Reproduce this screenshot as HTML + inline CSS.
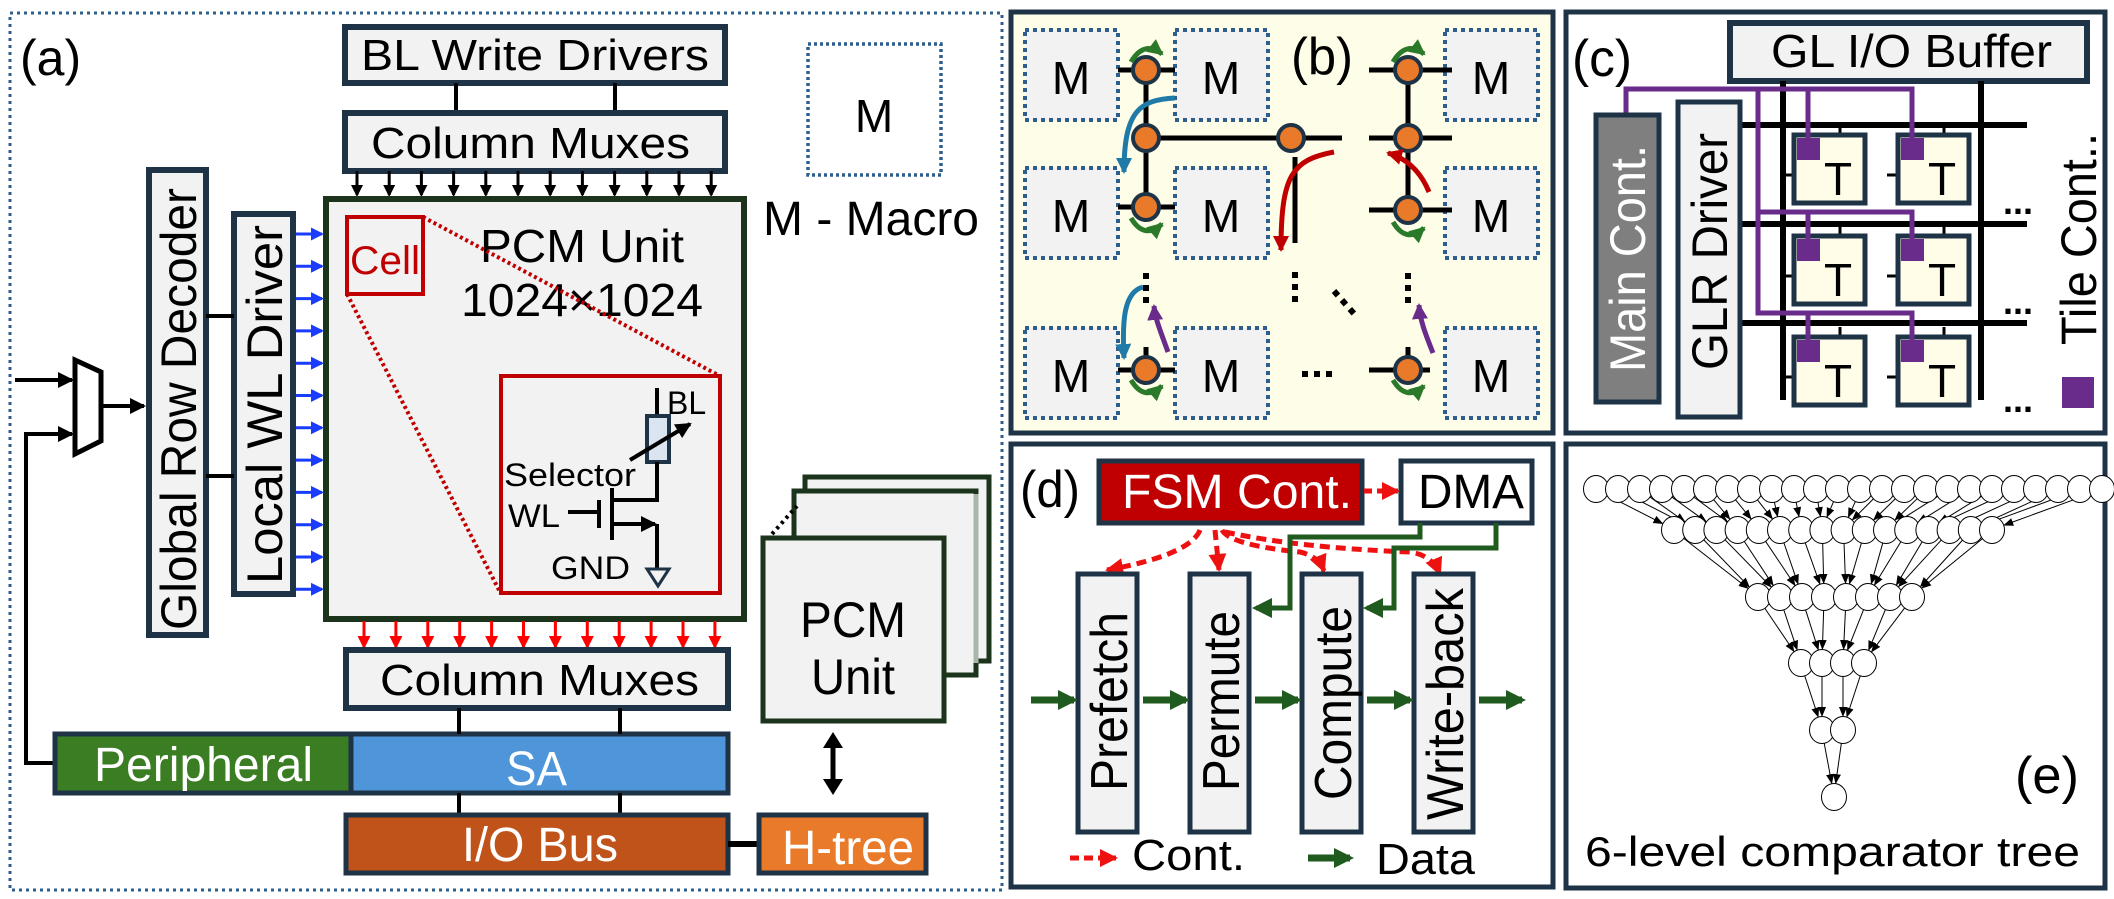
<!DOCTYPE html>
<html><head><meta charset="utf-8"><style>
html,body{margin:0;padding:0;background:#fff;}
svg{display:block;font-family:"Liberation Sans",Arial,sans-serif;}
</style></head><body>
<svg id="s" width="2114" height="899" viewBox="0 0 2114 899" xmlns="http://www.w3.org/2000/svg">
<defs>
<marker id="ak" markerWidth="12" markerHeight="12" refX="10" refY="6" orient="auto" markerUnits="userSpaceOnUse"><path d="M0,0L12,6L0,12z" fill="#000"/></marker>
<marker id="akb" markerWidth="16" markerHeight="16" refX="14" refY="8" orient="auto" markerUnits="userSpaceOnUse"><path d="M0,0L16,8L0,16z" fill="#000"/></marker>
<marker id="ab" markerWidth="13" markerHeight="13" refX="11" refY="6.5" orient="auto" markerUnits="userSpaceOnUse"><path d="M0,0L13,6.5L0,13z" fill="#1a3cff"/></marker>
<marker id="ar" markerWidth="13" markerHeight="13" refX="11" refY="6.5" orient="auto" markerUnits="userSpaceOnUse"><path d="M0,0L13,6.5L0,13z" fill="#ff0000"/></marker>
<marker id="ared" markerWidth="16" markerHeight="16" refX="14" refY="8" orient="auto" markerUnits="userSpaceOnUse"><path d="M0,0L16,8L0,16z" fill="#c00000"/></marker>
<marker id="ablue" markerWidth="16" markerHeight="16" refX="14" refY="8" orient="auto" markerUnits="userSpaceOnUse"><path d="M0,0L16,8L0,16z" fill="#1f7aa8"/></marker>
<marker id="agr" markerWidth="16" markerHeight="16" refX="14" refY="8" orient="auto" markerUnits="userSpaceOnUse"><path d="M0,0L16,8L0,16z" fill="#2a7a2a"/></marker>
<marker id="apu" markerWidth="16" markerHeight="16" refX="14" refY="8" orient="auto" markerUnits="userSpaceOnUse"><path d="M0,0L16,8L0,16z" fill="#6a2c8a"/></marker>
<marker id="adg" markerWidth="20" markerHeight="20" refX="16" refY="10" orient="auto" markerUnits="userSpaceOnUse"><path d="M0,0L20,10L0,20z" fill="#1f5a1f"/></marker>
<marker id="arr" markerWidth="18" markerHeight="18" refX="16" refY="9" orient="auto" markerUnits="userSpaceOnUse"><path d="M0,0L18,9L0,18z" fill="#ee1111"/></marker>
<marker id="atree" markerWidth="10" markerHeight="10" refX="9" refY="5" orient="auto" markerUnits="userSpaceOnUse"><path d="M0,1L10,5L0,9z" fill="#000"/></marker>
</defs>

<!-- ===== Panel (a) ===== -->
<rect x="10" y="13" width="992" height="877" fill="none" stroke="#2e5e8e" stroke-width="3" stroke-dasharray="3,4"/>
<text x="20" y="75" font-size="50">(a)</text>

<rect x="345" y="27" width="380" height="56" fill="#f2f2f2" stroke="#1f3347" stroke-width="6"/>
<text x="361" y="70" font-size="44" textLength="348" lengthAdjust="spacingAndGlyphs">BL Write Drivers</text>
<line x1="456" y1="83" x2="456" y2="113" stroke="#000" stroke-width="4"/>
<line x1="615" y1="83" x2="615" y2="113" stroke="#000" stroke-width="4"/>
<rect x="345" y="113" width="380" height="58" fill="#f2f2f2" stroke="#1f3347" stroke-width="6"/>
<text x="371" y="158" font-size="44" textLength="319" lengthAdjust="spacingAndGlyphs">Column Muxes</text>

<g id="blkarrows"></g>

<rect x="326" y="199" width="418" height="420" fill="#f2f2f2" stroke="#1c331c" stroke-width="6"/>
<rect x="347" y="217" width="76" height="77" fill="none" stroke="#c00000" stroke-width="4"/>
<text x="350" y="274" font-size="40" fill="#c00000" textLength="70" lengthAdjust="spacingAndGlyphs">Cell</text>
<text x="480" y="262" font-size="46" textLength="204" lengthAdjust="spacingAndGlyphs">PCM Unit</text>
<text x="461" y="316" font-size="46" textLength="242" lengthAdjust="spacingAndGlyphs">1024×1024</text>
<line x1="423" y1="217" x2="718" y2="375" stroke="#c00000" stroke-width="4" stroke-dasharray="3,3"/>
<line x1="347" y1="294" x2="500" y2="592" stroke="#c00000" stroke-width="4" stroke-dasharray="3,3"/>
<rect x="501" y="376" width="219" height="217" fill="#f2f2f2" stroke="#c00000" stroke-width="4"/>
<line x1="657" y1="388" x2="657" y2="416" stroke="#000" stroke-width="4"/>
<text x="667" y="414" font-size="32">BL</text>
<rect x="647" y="416" width="22" height="46" fill="#dbe5f1" stroke="#1f3347" stroke-width="4"/>
<line x1="630" y1="460" x2="690" y2="424" stroke="#000" stroke-width="4" marker-end="url(#akb)"/>
<polyline points="657,462 657,500 612,500" fill="none" stroke="#000" stroke-width="4"/>
<line x1="612" y1="488" x2="612" y2="540" stroke="#000" stroke-width="4"/>
<line x1="599" y1="500" x2="599" y2="528" stroke="#000" stroke-width="4"/>
<line x1="568" y1="512" x2="599" y2="512" stroke="#000" stroke-width="4"/>
<line x1="612" y1="524" x2="655" y2="524" stroke="#000" stroke-width="4" marker-end="url(#akb)"/>
<line x1="657" y1="524" x2="657" y2="569" stroke="#000" stroke-width="4"/>
<path d="M647,569 L669,569 L658,586 Z" fill="none" stroke="#1f3347" stroke-width="3"/>
<text x="504" y="486" font-size="32" textLength="132" lengthAdjust="spacingAndGlyphs">Selector</text>
<text x="508" y="527" font-size="32" textLength="52" lengthAdjust="spacingAndGlyphs">WL</text>
<text x="551" y="579" font-size="32" textLength="79" lengthAdjust="spacingAndGlyphs">GND</text>

<g id="bluearrows"></g>
<rect x="234" y="214" width="59" height="380" fill="#f2f2f2" stroke="#1f3347" stroke-width="6"/>
<text transform="translate(282,584) rotate(-90)" font-size="50" textLength="359" lengthAdjust="spacingAndGlyphs">Local  WL Driver</text>
<rect x="149" y="170" width="57" height="465" fill="#f2f2f2" stroke="#1f3347" stroke-width="6"/>
<text transform="translate(196,630) rotate(-90)" font-size="50" textLength="442" lengthAdjust="spacingAndGlyphs">Global Row Decoder</text>
<line x1="206" y1="316" x2="234" y2="316" stroke="#000" stroke-width="4"/>
<line x1="206" y1="476" x2="234" y2="476" stroke="#000" stroke-width="4"/>

<path d="M75,360 L101,372 L101,441 L75,454 Z" fill="#fff" stroke="#000" stroke-width="5"/>
<line x1="15" y1="380" x2="72" y2="380" stroke="#000" stroke-width="4" marker-end="url(#akb)"/>
<polyline points="55,763 26,763 26,434 72,434" fill="none" stroke="#000" stroke-width="4" marker-end="url(#akb)"/>
<line x1="101" y1="406" x2="144" y2="406" stroke="#000" stroke-width="4" marker-end="url(#akb)"/>

<rect x="55" y="734" width="296" height="59" fill="#3b7d23" stroke="#1f3347" stroke-width="5"/>
<text x="94" y="781" font-size="48" fill="#fff" textLength="219" lengthAdjust="spacingAndGlyphs">Peripheral</text>
<rect x="351" y="734" width="377" height="59" fill="#4e95d9" stroke="#1f3347" stroke-width="5"/>
<text x="506" y="785" font-size="48" fill="#fff" textLength="61" lengthAdjust="spacingAndGlyphs">SA</text>

<g id="redarrows"></g>
<rect x="346" y="650" width="382" height="58" fill="#f2f2f2" stroke="#1f3347" stroke-width="6"/>
<text x="380" y="695" font-size="44" textLength="319" lengthAdjust="spacingAndGlyphs">Column Muxes</text>
<line x1="459" y1="708" x2="459" y2="734" stroke="#000" stroke-width="4"/>
<line x1="620" y1="708" x2="620" y2="734" stroke="#000" stroke-width="4"/>
<line x1="459" y1="793" x2="459" y2="815" stroke="#000" stroke-width="4"/>
<line x1="620" y1="793" x2="620" y2="815" stroke="#000" stroke-width="4"/>
<rect x="346" y="815" width="382" height="58" fill="#c0531a" stroke="#1f3347" stroke-width="5"/>
<text x="462" y="861" font-size="48" fill="#fff" textLength="156" lengthAdjust="spacingAndGlyphs">I/O Bus</text>
<line x1="728" y1="844" x2="759" y2="844" stroke="#000" stroke-width="6"/>
<rect x="759" y="815" width="167" height="58" fill="#e97a2a" stroke="#1f3347" stroke-width="5"/>
<text x="782" y="864" font-size="48" fill="#fff" textLength="132" lengthAdjust="spacingAndGlyphs">H-tree</text>

<rect x="805" y="477" width="184" height="184" fill="#f2f2f2" stroke="#1c331c" stroke-width="5"/>
<rect x="794" y="491" width="182" height="184" fill="#f2f2f2" stroke="#1c331c" stroke-width="5"/>
<line x1="976" y1="494" x2="976" y2="663" stroke="#a9b5a9" stroke-width="5"/>
<rect x="763" y="538" width="181" height="183" fill="#f2f2f2" stroke="#1c331c" stroke-width="5"/>
<line x1="772" y1="534" x2="797" y2="506" stroke="#000" stroke-width="4" stroke-dasharray="3,4"/>
<text x="800" y="637" font-size="50" textLength="106" lengthAdjust="spacingAndGlyphs">PCM</text>
<text x="811" y="694" font-size="50" textLength="84" lengthAdjust="spacingAndGlyphs">Unit</text>
<line x1="833" y1="745" x2="833" y2="782" stroke="#000" stroke-width="5"/>
<path d="M823,748 L833,732 L843,748 Z M823,779 L833,795 L843,779 Z" fill="#000"/>

<rect x="808" y="44" width="133" height="131" fill="none" stroke="#2e5e8e" stroke-width="3.5" stroke-dasharray="3,3"/>
<text x="874" y="132" font-size="46" text-anchor="middle">M</text>
<text x="763" y="235" font-size="48" textLength="216" lengthAdjust="spacingAndGlyphs">M - Macro</text>

<!-- ===== Panel (b) ===== -->
<rect x="1011" y="12" width="542" height="421" fill="#fefde8" stroke="#1f3347" stroke-width="5"/>
<g id="mboxes"></g>
<text x="1291" y="74" font-size="52" textLength="62" lengthAdjust="spacingAndGlyphs">(b)</text>
<g stroke="#000" stroke-width="5" fill="none">
<line x1="1146" y1="70" x2="1146" y2="207"/>
<line x1="1146" y1="138" x2="1342" y2="138"/>
<line x1="1118" y1="70" x2="1175" y2="70"/>
<line x1="1118" y1="207" x2="1175" y2="207"/>
<line x1="1408" y1="70" x2="1408" y2="207"/>
<line x1="1369" y1="70" x2="1452" y2="70"/>
<line x1="1369" y1="138" x2="1452" y2="138"/>
<line x1="1369" y1="210" x2="1452" y2="210"/>
<line x1="1295" y1="157" x2="1295" y2="243"/>
<line x1="1118" y1="370" x2="1175" y2="370"/>
<line x1="1146" y1="347" x2="1146" y2="370"/>
<line x1="1369" y1="370" x2="1430" y2="370"/>
<line x1="1408" y1="347" x2="1408" y2="370"/>
</g>
<g fill="#e97a2a" stroke="#1f3347" stroke-width="4">
<circle cx="1146" cy="70" r="13"/><circle cx="1146" cy="138" r="13"/><circle cx="1291" cy="138" r="13"/>
<circle cx="1408" cy="70" r="13"/><circle cx="1408" cy="138" r="13"/><circle cx="1146" cy="207" r="13"/>
<circle cx="1408" cy="210" r="13"/><circle cx="1146" cy="370" r="13"/><circle cx="1408" cy="370" r="13"/>
</g>
<g fill="none" stroke-width="5">
<path d="M1175,98 C1140,100 1124,110 1124,172" stroke="#1f7aa8" marker-end="url(#ablue)"/>
<path d="M1143,287 C1124,292 1122,320 1124,358" stroke="#1f7aa8" marker-end="url(#ablue)"/>
<path d="M1334,152 C1292,160 1281,175 1281,250" stroke="#c00000" marker-end="url(#ared)"/>
<path d="M1429,192 C1420,170 1405,158 1388,153" stroke="#c00000" marker-end="url(#ared)"/>
<path d="M1168,352 C1160,330 1155,318 1154,306" stroke="#6a2c8a" marker-end="url(#apu)"/>
<path d="M1433,353 C1425,333 1420,320 1419,305" stroke="#6a2c8a" marker-end="url(#apu)"/>
<path d="M1131,62 Q1144,40 1162,54" stroke="#2a7a2a" marker-end="url(#agr)"/>
<path d="M1393,62 Q1406,40 1424,54" stroke="#2a7a2a" marker-end="url(#agr)"/>
<path d="M1131,218 Q1144,240 1162,224" stroke="#2a7a2a" marker-end="url(#agr)"/>
<path d="M1393,222 Q1406,244 1424,228" stroke="#2a7a2a" marker-end="url(#agr)"/>
<path d="M1131,380 Q1144,402 1162,386" stroke="#2a7a2a" marker-end="url(#agr)"/>
<path d="M1393,380 Q1406,402 1424,386" stroke="#2a7a2a" marker-end="url(#agr)"/>
</g>
<g stroke="#000" stroke-width="6" stroke-dasharray="6,6">
<line x1="1146" y1="273" x2="1146" y2="303"/>
<line x1="1295" y1="272" x2="1295" y2="305"/>
<line x1="1408" y1="273" x2="1408" y2="305"/>
<line x1="1334" y1="291" x2="1356" y2="316"/>
<line x1="1302" y1="374" x2="1338" y2="374"/>
</g>

<!-- ===== Panel (c) ===== -->
<rect x="1566" y="12" width="539" height="421" fill="#fff" stroke="#1f3347" stroke-width="5"/>
<text x="1572" y="76" font-size="52" textLength="60" lengthAdjust="spacingAndGlyphs">(c)</text>
<rect x="1730" y="23" width="357" height="58" fill="#f2f2f2" stroke="#1f3347" stroke-width="6"/>
<text x="1771" y="67" font-size="46" textLength="281" lengthAdjust="spacingAndGlyphs">GL I/O Buffer</text>
<g stroke="#000" stroke-width="6">
<line x1="1740" y1="125" x2="2027" y2="125"/>
<line x1="1740" y1="224" x2="2027" y2="224"/>
<line x1="1740" y1="323" x2="2027" y2="323"/>
<line x1="1783" y1="81" x2="1783" y2="400"/>
<line x1="1981" y1="81" x2="1981" y2="400"/>
</g>
<g id="tboxes"></g>
<g stroke="#6a2c8a" stroke-width="5" fill="none">
<polyline points="1626,115 1626,89 1912,89 1912,140"/>
<line x1="1808" y1="89" x2="1808" y2="140"/>
<polyline points="1758,89 1758,313 1912,313 1912,342"/>
<polyline points="1758,212 1912,212 1912,241"/>
<line x1="1808" y1="212" x2="1808" y2="241"/>
<line x1="1808" y1="313" x2="1808" y2="342"/>
</g>
<rect x="1596" y="115" width="63" height="287" fill="#7f7f7f" stroke="#1f3347" stroke-width="5"/>
<text transform="translate(1645,372) rotate(-90)" font-size="50" fill="#fff" textLength="227" lengthAdjust="spacingAndGlyphs">Main Cont.</text>
<rect x="1678" y="102" width="62" height="315" fill="#f2f2f2" stroke="#1f3347" stroke-width="5"/>
<text transform="translate(1727,370) rotate(-90)" font-size="50" textLength="237" lengthAdjust="spacingAndGlyphs">GLR Driver</text>
<text x="2003" y="214" font-size="36" font-weight="bold">...</text>
<text x="2003" y="314" font-size="36" font-weight="bold">...</text>
<text x="2003" y="412" font-size="36" font-weight="bold">...</text>
<text transform="translate(2096,345) rotate(-90)" font-size="50" textLength="212" lengthAdjust="spacingAndGlyphs">Tile Cont..</text>
<rect x="2062" y="377" width="32" height="31" fill="#6a2c8a"/>

<!-- ===== Panel (d) ===== -->
<rect x="1011" y="444" width="542" height="443" fill="#fff" stroke="#1f3347" stroke-width="5"/>
<text x="1020" y="507" font-size="52" textLength="60" lengthAdjust="spacingAndGlyphs">(d)</text>
<rect x="1099" y="461" width="263" height="62" fill="#c00000" stroke="#1f3347" stroke-width="5"/>
<text x="1122" y="508" font-size="48" fill="#fff" textLength="230" lengthAdjust="spacingAndGlyphs">FSM Cont.</text>
<rect x="1401" y="461" width="131" height="62" fill="#fff" stroke="#1f3347" stroke-width="5"/>
<text x="1418" y="508" font-size="48" textLength="106" lengthAdjust="spacingAndGlyphs">DMA</text>
<line x1="1364" y1="491" x2="1398" y2="491" stroke="#ee1111" stroke-width="5" stroke-dasharray="8,5" marker-end="url(#arr)"/>
<g stroke="#ee1111" stroke-width="5" fill="none" stroke-dasharray="10,6">
<path d="M1200,530 Q1190,555 1107,570" marker-end="url(#arr)"/>
<path d="M1215,530 L1219,570" marker-end="url(#arr)"/>
<path d="M1222,530 Q1230,545 1300,552 Q1318,556 1324,571" marker-end="url(#arr)"/>
<path d="M1225,532 Q1300,548 1410,552 Q1432,555 1440,574" marker-end="url(#arr)"/>
</g>
<g stroke="#1f5a1f" stroke-width="5" fill="none">
<polyline points="1420,523 1420,537 1290,537 1290,608 1256,608" marker-end="url(#adg)"/>
<polyline points="1496,523 1496,548 1394,548 1394,608 1367,608" marker-end="url(#adg)"/>
</g>
<g fill="#f2f2f2" stroke="#1f3347" stroke-width="5">
<rect x="1078" y="574" width="59" height="258"/>
<rect x="1190" y="574" width="59" height="258"/>
<rect x="1302" y="574" width="59" height="258"/>
<rect x="1414" y="574" width="59" height="258"/>
</g>
<text transform="translate(1127,791) rotate(-90)" font-size="52" textLength="179" lengthAdjust="spacingAndGlyphs">Prefetch</text>
<text transform="translate(1239,791) rotate(-90)" font-size="52" textLength="180" lengthAdjust="spacingAndGlyphs">Permute</text>
<text transform="translate(1351,800) rotate(-90)" font-size="52" textLength="194" lengthAdjust="spacingAndGlyphs">Compute</text>
<text transform="translate(1463,820) rotate(-90)" font-size="52" textLength="232" lengthAdjust="spacingAndGlyphs">Write-back</text>
<g stroke="#1f5a1f" stroke-width="7" fill="none">
<line x1="1031" y1="700" x2="1074" y2="700" marker-end="url(#adg)"/>
<line x1="1143" y1="700" x2="1186" y2="700" marker-end="url(#adg)"/>
<line x1="1255" y1="700" x2="1298" y2="700" marker-end="url(#adg)"/>
<line x1="1367" y1="700" x2="1410" y2="700" marker-end="url(#adg)"/>
<line x1="1479" y1="700" x2="1522" y2="700" marker-end="url(#adg)"/>
</g>
<line x1="1070" y1="858" x2="1116" y2="858" stroke="#ee1111" stroke-width="5" stroke-dasharray="9,5" marker-end="url(#arr)"/>
<text x="1132" y="870" font-size="44" textLength="113" lengthAdjust="spacingAndGlyphs">Cont.</text>
<line x1="1308" y1="858" x2="1350" y2="858" stroke="#1f5a1f" stroke-width="7" marker-end="url(#adg)"/>
<text x="1376" y="874" font-size="44" textLength="99" lengthAdjust="spacingAndGlyphs">Data</text>

<!-- ===== Panel (e) ===== -->
<rect x="1566" y="444" width="539" height="444" fill="#fff" stroke="#1f3347" stroke-width="5"/>
<g id="tree"></g>
<text x="2015" y="793" font-size="52" textLength="64" lengthAdjust="spacingAndGlyphs">(e)</text>
<text x="1585" y="866" font-size="42" textLength="495" lengthAdjust="spacingAndGlyphs">6-level comparator tree</text>
</svg>
<script>
var NS="http://www.w3.org/2000/svg";
function el(p,t,a){var e=document.createElementNS(NS,t);for(var k in a)e.setAttribute(k,a[k]);document.getElementById(p).appendChild(e);return e;}
function txt(p,a,s){var e=el(p,"text",a);e.textContent=s;return e;}
for(var i=0;i<12;i++){var x=357+i*32.2;el("blkarrows","line",{x1:x,y1:171,x2:x,y2:195,stroke:"#000","stroke-width":3,"marker-end":"url(#ak)"});}
for(var i=0;i<12;i++){var x=364+i*31.9;el("redarrows","line",{x1:x,y1:621,x2:x,y2:647,stroke:"#ff0000","stroke-width":3,"marker-end":"url(#ar)"});}
for(var i=0;i<12;i++){var y=234+i*32.3;el("bluearrows","line",{x1:296,y1:y,x2:322,y2:y,stroke:"#1a3cff","stroke-width":3,"marker-end":"url(#ab)"});}
var cols=[1025,1175,1445],rows=[30,168,328];
cols.forEach(function(cx){rows.forEach(function(ry){
 el("mboxes","rect",{x:cx,y:ry,width:93,height:90,fill:"#f2f2f2",stroke:"#2e5e8e","stroke-width":4,"stroke-dasharray":"4,4"});
 txt("mboxes",{x:cx+46,y:ry+64,"font-size":46,"text-anchor":"middle"},"M");});});
[[1794,135],[1898,135],[1794,236],[1898,236],[1794,337],[1898,337]].forEach(function(p){
 el("tboxes","line",{x1:p[0]+46,y1:p[1]-10,x2:p[0]+46,y2:p[1],stroke:"#000","stroke-width":3});
 el("tboxes","line",{x1:p[0]-11,y1:p[1]+40,x2:p[0],y2:p[1]+40,stroke:"#000","stroke-width":3});
 el("tboxes","rect",{x:p[0],y:p[1],width:71,height:68,fill:"#fffde7",stroke:"#1f3347","stroke-width":5});
 el("tboxes","rect",{x:p[0]+3,y:p[1]+3,width:23,height:22,fill:"#6a2c8a"});
 txt("tboxes",{x:p[0]+44,y:p[1]+60,"font-size":46,"text-anchor":"middle"},"T");});
var levels=[[24,1596,22,489],[16,1674,21.2,530],[8,1758,22,597],[4,1801,21,663],[2,1822,21,730],[1,1834,0,797]];
var pos=levels.map(function(L){var a=[];for(var i=0;i<L[0];i++)a.push([L[1]+i*L[2],L[3]]);return a;});
for(var l=0;l<5;l++){var A=pos[l],B=pos[l+1];for(var i=0;i<A.length;i++){var j=B.length==1?0:Math.round(i*(B.length-1)/(A.length-1));
 var p=A[i],q=B[j],dx=q[0]-p[0],dy=q[1]-p[1],d=Math.sqrt(dx*dx+dy*dy);
 el("tree","line",{x1:p[0]+dx/d*12,y1:p[1]+dy/d*13,x2:q[0]-dx/d*13,y2:q[1]-dy/d*14,stroke:"#000","stroke-width":1,"marker-end":"url(#atree)"});}}
pos.forEach(function(a){a.forEach(function(p){el("tree","ellipse",{cx:p[0],cy:p[1],rx:12.5,ry:13.5,fill:"#fff",stroke:"#000","stroke-width":1});});});
</script>
</body></html>
